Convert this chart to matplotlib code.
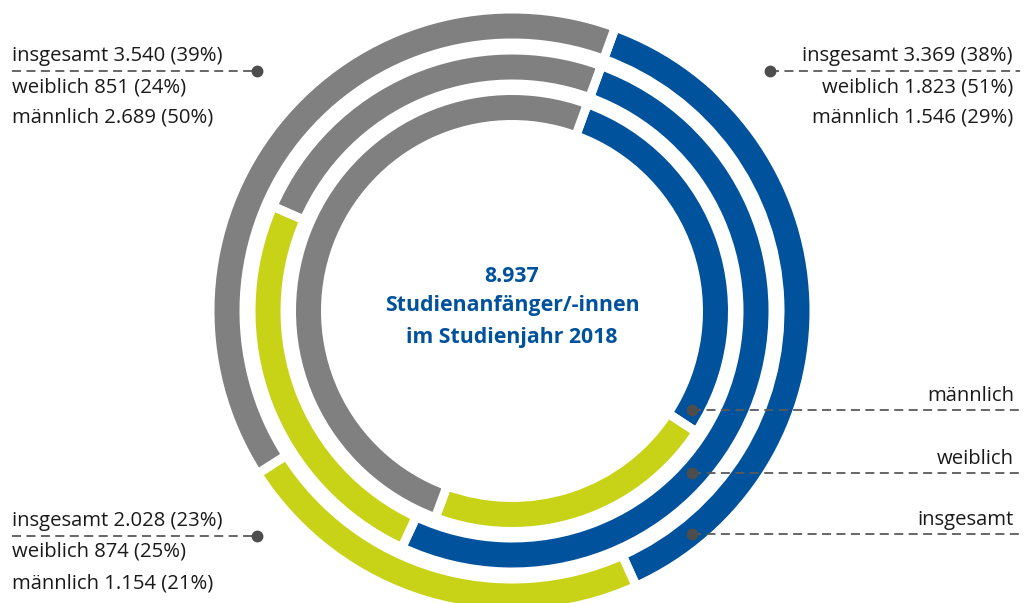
import matplotlib
matplotlib.use("Agg")
import matplotlib.pyplot as plt

# ---- data ----
groups = ["blau", "grün", "grau"]
insgesamt = [3369, 2028, 3540]
weiblich = [1823, 874, 851]
maennlich = [1546, 1154, 2689]
pct_insgesamt = [38, 23, 39]
pct_weiblich = [51, 25, 24]
pct_maennlich = [29, 21, 50]
total = 8937
year = 2018
ring_names = ["insgesamt", "weiblich", "männlich"]

colors = ["#00529C", "#C8D317", "#808080"]

W, H = 1028, 603
fig = plt.figure(figsize=(W / 100, H / 100), dpi=100)
ax = fig.add_axes([0, 0, 1, 1])

def de(n):
    return f"{n:,}".replace(",", ".")

cx, cy = 512, H - 311
ring_w = 25
gap_px = 9
gap_pt = gap_px * 72 / 100
rings = [(insgesamt, 297.5), (weiblich, 256.5), (maennlich, 216)]
for vals, r_out in rings:
    ax.pie(vals, colors=colors, radius=r_out + gap_px / 2, center=(cx, cy),
           startangle=70, counterclock=False,
           wedgeprops=dict(width=ring_w + gap_px, edgecolor="white",
                           linewidth=gap_pt, joinstyle="miter"))

ax.set_xlim(0, W)
ax.set_ylim(0, H)
ax.set_aspect("equal")
ax.axis("off")

tc = "#1a1a1a"
lc = "#5a5a5a"
fs = 14.6
fam = ["Open Sans", "DejaVu Sans"]

def block(x, y_top, vals_idx, ha):
    lines = [
        f"insgesamt {de(insgesamt[vals_idx])} ({pct_insgesamt[vals_idx]}%)",
        f"weiblich {de(weiblich[vals_idx])} ({pct_weiblich[vals_idx]}%)",
        f"männlich {de(maennlich[vals_idx])} ({pct_maennlich[vals_idx]}%)",
    ]
    for i, t in enumerate(lines):
        ax.text(x, H - (y_top + i * 31), t, ha=ha, va="center", fontsize=fs,
                color=tc, family=fam)

def leader(x0, x1, y, dotx):
    ax.plot([x0, x1], [H - y, H - y], color=lc, lw=1.3, ls=(0, (5, 3)))
    ax.plot([dotx], [H - y], "o", color="#4d4d4d", ms=7.5)

# top left (grau)
block(12, 56, 2, "left")
leader(12, 257, 71, 257)
# top right (blau)
block(1013, 56, 0, "right")
leader(770, 1020, 71, 770)
# bottom left (grün)
block(12, 521, 1, "left")
leader(12, 257, 536, 257)

# right ring labels
for name, y in zip(["männlich", "weiblich", "insgesamt"], [410, 473, 534]):
    ax.text(1014, H - (y - 14), name, ha="right", va="center", fontsize=fs,
            color=tc, family=fam)
    leader(692, 1020, y, 692)

# center text
blue = "#00529C"
for t, y in [(de(total), 276), ("Studienanfänger/-innen", 306),
             (f"im Studienjahr {year}", 337)]:
    ax.text(512, H - y, t, ha="center", va="center", fontsize=15.3,
            fontweight="bold", color=blue, family=fam)

fig.savefig("out.png", dpi=100)
